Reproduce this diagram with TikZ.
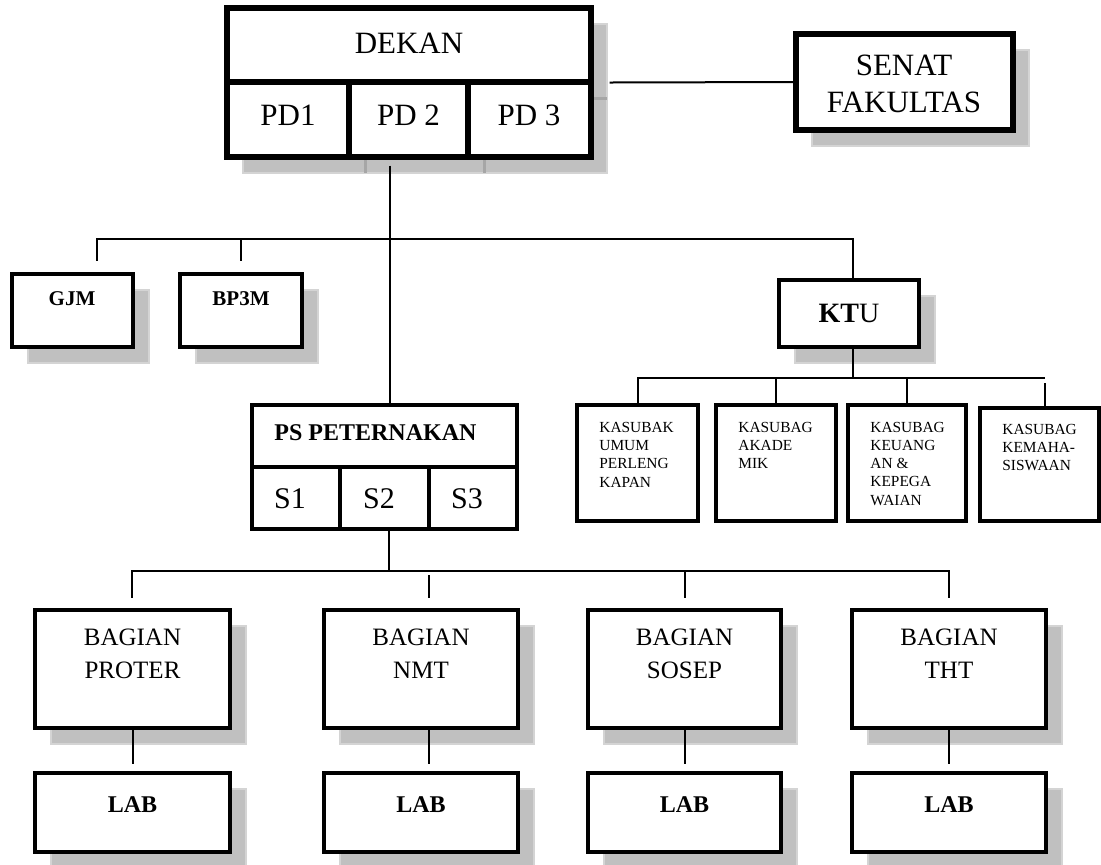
\documentclass[tikz,border=0pt]{standalone}
\usepackage{fontspec}
\setmainfont{Liberation Serif}
\usetikzlibrary{fit,calc}
\definecolor{shad}{HTML}{C0C0C0}
\definecolor{shadedge}{HTML}{D4D4D4}
\definecolor{shadline}{HTML}{A6A6A6}
\newcommand\dropshadow[4]{\path[shadowbox] ({#1+16},{#2+16}) rectangle ({#3+16},{#4+16});}
\begin{document}
\begin{tikzpicture}[x=0.5pt,y=-0.5pt,
  box/.style={draw=black, line width=2.2pt, fill=white, inner sep=0pt},
  thickbox/.style={box, line width=2.6pt},
  shadowbox/.style={fill=shad, draw=shadedge, line width=0.8pt},
  conn/.style={line width=1pt},
  txt/.style={anchor=base, inner sep=0pt, align=center},
  ltxt/.style={anchor=base west, inner sep=0pt, align=left, font=\fontsize{7.7}{9.15}\selectfont},
  big/.style={font=\fontsize{15.5}{18.5}\selectfont},
  mid/.style={font=\fontsize{12.5}{16.5}\selectfont},
  labf/.style={font=\bfseries\fontsize{12}{14}\selectfont},
  smallb/.style={font=\bfseries\fontsize{10.5}{12}\selectfont}
]
\useasboundingbox (0,0) rectangle (1101,864);

% ---------- shadows ----------
\dropshadow{227}{8}{591}{157}
\dropshadow{796}{34}{1013}{130}
\dropshadow{12}{274}{133}{347}
\dropshadow{180}{274}{302}{347}
\dropshadow{779}{280}{919}{347}
\dropshadow{35}{610}{230}{728}
\dropshadow{324}{610}{518}{728}
\dropshadow{588}{610}{781}{728}
\dropshadow{852}{610}{1046}{728}
\dropshadow{35}{773}{230}{852}
\dropshadow{324}{773}{518}{852}
\dropshadow{588}{773}{781}{852}
\dropshadow{852}{773}{1046}{852}
\draw[shadline, line width=1.5pt] (365,157) -- (365,173) (484,157) -- (484,173) (591,98) -- (607,98);

% ---------- boxes ----------
\node[thickbox, fit={(227,8)(591,157)}] (dekan) {};
\node[thickbox, fit={(796,34)(1013,130)}] (senat) {};
\node[box, fit={(12,274)(133,347)}] (gjm) {};
\node[box, fit={(180,274)(302,347)}] (bp3m) {};
\node[box, fit={(779,280)(919,347)}] (ktu) {};
\node[box, fit={(577,405)(698,521)}] (kas1) {};
\node[box, fit={(716,405)(836,521)}] (kas2) {};
\node[box, fit={(848,405)(966,521)}] (kas3) {};
\node[box, fit={(980,408)(1099,521)}] (kas4) {};
\node[box, fit={(252,405)(517,529)}] (ps) {};
\node[box, fit={(35,610)(230,728)}] (proter) {};
\node[box, fit={(324,610)(518,728)}] (nmt) {};
\node[box, fit={(588,610)(781,728)}] (sosep) {};
\node[box, fit={(852,610)(1046,728)}] (tht) {};
\node[box, fit={(35,773)(230,852)}] (labA) {};
\node[box, fit={(324,773)(518,852)}] (labB) {};
\node[box, fit={(588,773)(781,852)}] (labC) {};
\node[box, fit={(852,773)(1046,852)}] (labD) {};

% inner dividers
\draw[line width=2.6pt] (227,82) -- (591,82) (349,82) -- (349,157) (468,82) -- (468,157);
\draw[line width=2.2pt] (252,467) -- (517,467) (340,467) -- (340,529) (429,467) -- (429,529);

% ---------- connectors ----------
\coordinate (j1) at (390,239);
\coordinate (gL) at (97,239);
\coordinate (gB) at (241,239);
\coordinate (gK) at (853,239);
\coordinate (k0) at (853,378);
\coordinate (kL) at (638,378);
\coordinate (kR) at (1045,378);
\coordinate (p0) at (389,571);
\coordinate (bL) at (132,571);
\coordinate (bN) at (429,571);
\coordinate (bR) at (949,571);

\draw[conn] ($(dekan.east)+(16,0)$) -- (senat.west);
\draw[conn] ($(dekan.south -| j1)+(0,6)$) -- (ps.north -| j1);
\draw[conn] ($(gjm.north -| gL)+(0,-11)$) -- (gL) -- (gK) -- (ktu.north -| gK);
\draw[conn] (gB) -- ($(bp3m.north -| gB)+(0,-11)$);
\draw[conn] (ktu.south -| k0) -- (k0);
\draw[conn] (kas1.north -| kL) -- (kL) -- (kR);
\draw[conn] (kas2.north) -- (kas2.north |- kL);
\draw[conn] (kas3.north) -- (kas3.north |- kL);
\draw[conn] ($(kR)+(0,5)$) -- (kas4.north -| kR);
\draw[conn] (ps.south -| p0) -- (p0);
\draw[conn] ($(proter.north -| bL)+(0,-10)$) -- (bL) -- (bR) -- ($(tht.north -| bR)+(0,-10)$);
\draw[conn] ($(bN)+(0,4)$) -- ($(nmt.north -| bN)+(0,-10)$);
\draw[conn] (sosep.north |- bL) -- ($(sosep.north)+(0,-10)$);
\draw[conn] (proter.south) -- ($(labA.north)+(0,-7)$);
\draw[conn] (nmt.south -| bN) -- ($(labB.north -| bN)+(0,-7)$);
\draw[conn] (sosep.south) -- ($(labC.north)+(0,-7)$);
\draw[conn] (tht.south) -- ($(labD.north)+(0,-7)$);

% ---------- texts (multi-line nodes: base = last line) ----------
\node[txt, big] (dekan-t) at (409,53) {DEKAN};
\node[txt, big] (pd1) at (288,125) {PD1};
\node[txt, big] (pd2) at (408.5,125) {PD 2};
\node[txt, big] (pd3) at (529,125) {PD 3};
\node[txt, big] (senat-t) at (904,112) {SENAT\\FAKULTAS};
\node[txt, smallb] (gjm-t) at (72,305) {GJM};
\node[txt, smallb] (bp3m-t) at (241,305) {BP3M};
\node[txt, font=\fontsize{14}{16}\selectfont] (ktu-t) at (849,322) {\textbf{KT}U};
\node[ltxt] (kas1-t) at (599,487) {KASUBAK\\UMUM\\PERLENG\\KAPAN};
\node[ltxt] (kas2-t) at (738,468.6) {KASUBAG\\AKADE\\MIK};
\node[ltxt] (kas3-t) at (870,505.2) {KASUBAG\\KEUANG\\AN \&\\KEPEGA\\WAIAN};
\node[ltxt] (kas4-t) at (1002,470.6) {KASUBAG\\KEMAHA-\\SISWAAN};
\node[anchor=base west, inner sep=0pt, labf] (ps-t) at (274,440) {PS PETERNAKAN};
\node[txt, font=\fontsize{15}{18}\selectfont] (s1) at (290,508) {S1};
\node[txt, font=\fontsize{15}{18}\selectfont] (s2) at (379,508) {S2};
\node[txt, font=\fontsize{15}{18}\selectfont] (s3) at (467,508) {S3};
\node[txt, mid] (proter-t) at (132.5,678) {BAGIAN\\PROTER};
\node[txt, mid] (nmt-t) at (421,678) {BAGIAN\\NMT};
\node[txt, mid] (sosep-t) at (684.5,678) {BAGIAN\\SOSEP};
\node[txt, mid] (tht-t) at (949,678) {BAGIAN\\THT};
\node[txt, labf] (labA-t) at (132.5,812) {LAB};
\node[txt, labf] (labB-t) at (421,812) {LAB};
\node[txt, labf] (labC-t) at (684.5,812) {LAB};
\node[txt, labf] (labD-t) at (949,812) {LAB};
\end{tikzpicture}
\end{document}
